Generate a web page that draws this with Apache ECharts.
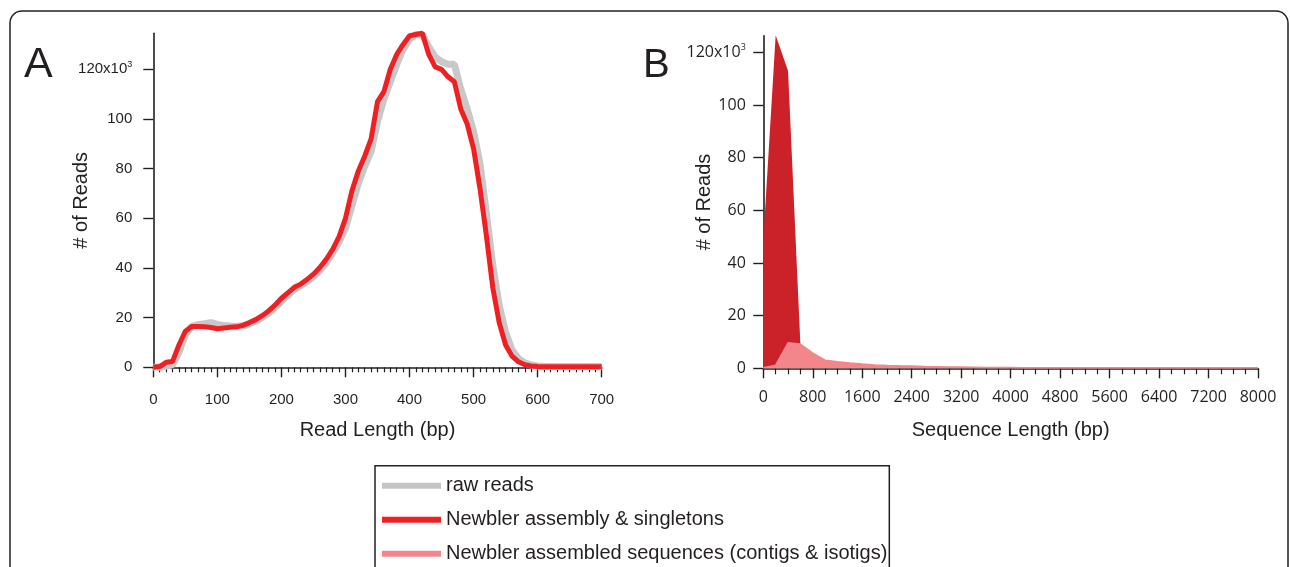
<!DOCTYPE html>
<html>
<head>
<meta charset="utf-8">
<script src="https://cdn.jsdelivr.net/npm/echarts@6/dist/echarts.min.js"></script>
<style>
html, body { margin: 0; padding: 0; background: #fff; }
#chart { width: 1290px; height: 567px; }
</style>
</head>
<body>
<div id="chart"></div>
<script>
// panel A : read length histogram
var readLength = [0, 10, 20, 30, 40, 50, 60, 70, 80, 90, 100, 110, 120, 130, 140, 150, 160, 170, 180, 190,
    200, 210, 220, 230, 240, 250, 260, 270, 280, 290, 300, 310, 320, 330, 340, 350, 360, 370, 380, 390,
    400, 410, 420, 430, 440, 450, 460, 470, 480, 490, 500, 510, 520, 530, 540, 550, 560, 570, 580, 590,
    600, 610, 620, 630, 640, 650, 660, 670, 680, 690, 700];
var rawReads = [0, 0, 0.5, 1, 6, 13, 16.5, 17.2, 17.6, 18, 17.3, 16.8, 16.6, 16.5, 16.7, 17.5, 18.6, 20, 21.8, 24,
    26.6, 29, 31.3, 32.8, 34.5, 36.5, 39, 42, 46, 50.5, 56, 65, 74, 81, 87, 99, 108, 115, 122, 128,
    132, 134, 134, 129, 125, 123, 122, 122, 112, 104, 95, 82, 62, 41, 25, 14, 7, 3.5, 1.8, 0.9,
    0.5, 0.3, 0.3, 0.3, 0.3, 0.3, 0.3, 0.3, 0.3, 0.3, 0.3];
var newblerReads = [0, 0.3, 2, 2.3, 9, 14.5, 16.4, 16.4, 16.3, 16, 15.5, 15.8, 16.1, 16.3, 16.9, 18, 19.2, 20.8, 22.7, 25.1,
    27.8, 30, 32.2, 33.5, 35.4, 37.5, 40.2, 43.5, 47.5, 52.6, 60, 71, 79, 85, 92, 107, 111, 120, 126, 130,
    133.5, 134, 134.5, 126, 121, 120, 117, 115, 104, 98, 88, 72, 53, 32, 18, 9, 4.5, 2.2, 1.0, 0.5,
    0.3, 0.2, 0.2, 0.2, 0.2, 0.2, 0.2, 0.2, 0.2, 0.2, 0.2];

// panel B : sequence length histogram
var seqLength = [0, 200, 400, 600, 800, 1000, 1200, 1400, 1600, 1800, 2000, 2200, 2400, 2600, 2800, 3000,
    3200, 3400, 3600, 3800, 4000, 4200, 4400, 4600, 4800, 5000, 5200, 5400, 5600, 5800, 6000,
    6200, 6400, 6600, 6800, 7000, 7200, 7400, 7600, 7800, 8000];
var singletonSeqs = [48.7, 126.5, 113, 9, 3, 1.5, 0, 0, 0, 0, 0, 0, 0, 0, 0, 0,
    0, 0, 0, 0, 0, 0, 0, 0, 0, 0, 0, 0, 0, 0, 0,
    0, 0, 0, 0, 0, 0, 0, 0, 0, 0];
var contigSeqs = [0.2, 1.2, 9.7, 9.2, 5.8, 3.1, 2.5, 2.0, 1.6, 1.3, 1.1, 0.95, 0.85, 0.7, 0.6, 0.5,
    0.45, 0.4, 0.35, 0.3, 0.3, 0.25, 0.25, 0.25, 0.25, 0.25, 0.25, 0.25, 0.25, 0.25, 0.25,
    0.25, 0.25, 0.25, 0.25, 0.25, 0.25, 0.25, 0.25, 0.25, 0.25];
var yTicks = [0, 20, 40, 60, 80, 100, 120];

var seriesNames = ['raw reads', 'Newbler assembly & singletons', 'Newbler assembled sequences (contigs & isotigs)'];

var ink = '#231F20';
var font = 'Liberation Sans';

function pairs(xs, ys) {
    var out = [];
    for (var i = 0; i < xs.length; i++) out.push([xs[i], ys[i]]);
    return out;
}

function yLabel(v) {
    if (v === 120) return '{b|120x10}{s|3}';
    return '{b|' + v + '}';
}

function yAxisOpt(idx, max, nameGap, offset, fam, size) {
    return {
        gridIndex: idx, type: 'value', min: 0, max: max, offset: offset,
        name: '# of Reads', nameLocation: 'middle', nameGap: nameGap, nameMoveOverlap: false,
        nameTextStyle: { fontFamily: font, fontSize: 20, color: ink },
        axisLine: { show: true, lineStyle: { color: ink, width: 1.6 } },
        axisTick: { show: true, length: 10, customValues: yTicks, lineStyle: { color: ink, width: 1.4 } },
        axisLabel: {
            customValues: yTicks, margin: 16, formatter: yLabel,
            rich: {
                b: { fontFamily: fam, fontSize: size, color: ink },
                s: { fontFamily: fam, fontSize: 9, color: ink, verticalAlign: 'bottom', padding: [0, 0, 9, 0] }
            }
        },
        splitLine: { show: false }
    };
}

var chart = echarts.init(document.getElementById('chart'));

var option = {
    animation: false,
    backgroundColor: '#fff',
    grid: [
        { left: 153.3, top: 33.3, width: 448.4, height: 334 },
        { left: 763.3, top: 35.7, width: 494.7, height: 332.6 }
    ],
    xAxis: [
        {
            gridIndex: 0, type: 'value', min: 0, max: 700, interval: 100, offset: 5,
            name: 'Read Length (bp)', nameLocation: 'middle', nameGap: 48, nameMoveOverlap: false,
            nameTextStyle: { fontFamily: font, fontSize: 20, color: ink },
            axisLine: { lineStyle: { color: ink, width: 1.6 } },
            axisTick: { length: 10, lineStyle: { color: ink, width: 1.4 } },
            minorTick: { show: true, splitNumber: 10, length: 5, lineStyle: { color: ink, width: 1.2 } },
            axisLabel: { fontFamily: font, fontSize: 15, color: ink, margin: 20 },
            splitLine: { show: false }
        },
        {
            gridIndex: 1, type: 'value', min: 0, max: 8000, interval: 800, offset: 2,
            name: 'Sequence Length (bp)', nameLocation: 'middle', nameGap: 50, nameMoveOverlap: false,
            nameTextStyle: { fontFamily: font, fontSize: 20, color: ink },
            axisLine: { lineStyle: { color: ink, width: 1.6 } },
            axisTick: { length: 10, lineStyle: { color: ink, width: 1.4 } },
            minorTick: { show: true, splitNumber: 4, length: 6, lineStyle: { color: ink, width: 1.2 } },
            axisLabel: {
                fontFamily: 'Open Sans', fontSize: 16, color: ink, margin: 19,
                formatter: function (v) { return String(v); }
            },
            splitLine: { show: false }
        }
    ],
    yAxis: [
        yAxisOpt(0, 134.5, 57, 5, font, 15),
        yAxisOpt(1, 126.3, 47, 1.5, 'Open Sans', 16)
    ],
    legend: {
        left: 375, top: 465.7, orient: 'vertical', height: 130,
        padding: [10, 2, 20, 7], itemGap: 14,
        itemWidth: 59, itemHeight: 6, icon: 'rect',
        borderColor: ink, borderWidth: 1.5,
        textStyle: { fontFamily: font, fontSize: 20, color: ink },
        data: [
            { name: seriesNames[0], itemStyle: { color: '#C4C4C4' } },
            { name: seriesNames[1], itemStyle: { color: '#EE2024' } },
            { name: seriesNames[2], itemStyle: { color: '#F2868A' } }
        ]
    },
    graphic: [
        { type: 'rect', shape: { x: 10, y: 11, width: 1278, height: 620, r: 12 },
          style: { fill: 'none', stroke: ink, lineWidth: 1.5 }, silent: true },
        { type: 'text', left: 24, top: 44, style: { text: 'A', font: '43px "Liberation Sans"', fill: ink } },
        { type: 'text', left: 643, top: 46, style: { text: 'B', font: '40px "Liberation Sans"', fill: ink } }
    ],
    series: [
        {
            name: seriesNames[0], type: 'line', xAxisIndex: 0, yAxisIndex: 0,
            data: pairs(readLength, rawReads), showSymbol: false, clip: false,
            lineStyle: { color: '#C8C8C8', width: 7 }, itemStyle: { color: '#C4C4C4' }
        },
        {
            name: seriesNames[1], type: 'line', xAxisIndex: 0, yAxisIndex: 0,
            data: pairs(readLength, newblerReads), showSymbol: false, clip: false,
            lineStyle: { color: '#EE2024', width: 5 }, itemStyle: { color: '#EE2024' }
        },
        {
            name: seriesNames[1], type: 'line', xAxisIndex: 1, yAxisIndex: 1,
            data: pairs(seqLength, singletonSeqs), showSymbol: false,
            lineStyle: { width: 0 }, itemStyle: { color: '#CB2128' },
            areaStyle: { color: '#CB2128', opacity: 1 }
        },
        {
            name: seriesNames[2], type: 'line', xAxisIndex: 1, yAxisIndex: 1,
            data: pairs(seqLength, contigSeqs), showSymbol: false, clip: false,
            lineStyle: { color: '#F2868A', width: 1.5 }, itemStyle: { color: '#F2868A' },
            areaStyle: { color: '#F2868A', opacity: 1 }
        }
    ]
};

chart.setOption(option);
</script>
</body>
</html>
